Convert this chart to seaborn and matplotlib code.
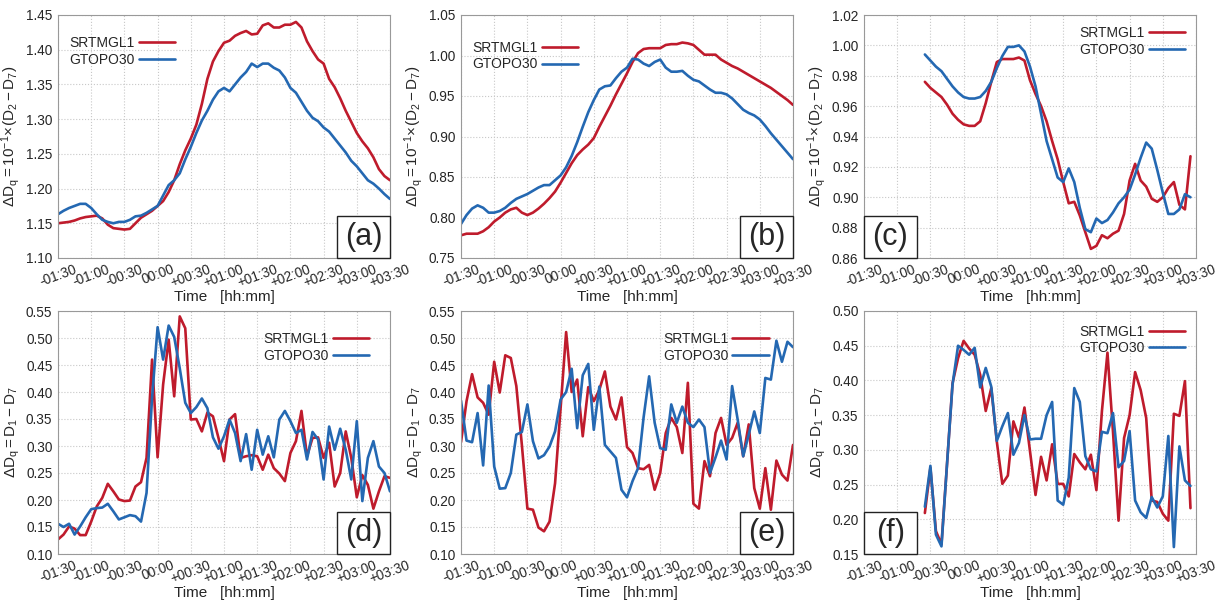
import numpy as np
import pandas as pd
import seaborn as sns
import matplotlib
matplotlib.use("Agg")
import matplotlib.pyplot as plt
from matplotlib.patches import Rectangle

# Tempo em minutos relativo ao evento (passo de 5 min)
t_full = list(range(-90, 215, 5))
t_short = list(range(-35, 210, 5))

x_ticks = [-90, -60, -30, 0, 30, 60, 90, 120, 150, 180, 210]
x_ticklabels = ['-01:30', '-01:00', '-00:30', '00:00', '+00:30', '+01:00',
                '+01:30', '+02:00', '+02:30', '+03:00', '+03:30']

# (a) 10^-1 x (D2 - D7)
a_srtm = [1.150, 1.151, 1.152, 1.154, 1.157, 1.159, 1.160, 1.161, 1.157, 1.148,
          1.143, 1.142, 1.141, 1.142, 1.150, 1.158, 1.163, 1.168, 1.175, 1.182,
          1.195, 1.212, 1.235, 1.255, 1.272, 1.292, 1.322, 1.358, 1.383, 1.398,
          1.410, 1.413, 1.420, 1.424, 1.427, 1.422, 1.423, 1.435, 1.438, 1.432,
          1.432, 1.436, 1.436, 1.440, 1.432, 1.412, 1.398, 1.386, 1.380, 1.358,
          1.346, 1.330, 1.312, 1.296, 1.280, 1.268, 1.258, 1.245, 1.228, 1.218,
          1.212]
a_gtopo = [1.163, 1.168, 1.172, 1.175, 1.178, 1.178, 1.172, 1.163, 1.155, 1.152,
           1.150, 1.152, 1.152, 1.155, 1.160, 1.161, 1.165, 1.170, 1.175, 1.190,
           1.205, 1.212, 1.222, 1.242, 1.260, 1.280, 1.298, 1.312, 1.328, 1.340,
           1.345, 1.340, 1.350, 1.360, 1.368, 1.380, 1.375, 1.380, 1.380, 1.374,
           1.370, 1.360, 1.345, 1.338, 1.325, 1.312, 1.302, 1.297, 1.288, 1.282,
           1.272, 1.262, 1.252, 1.240, 1.232, 1.222, 1.212, 1.207, 1.200, 1.192,
           1.185]

# (b)
b_srtm = [0.778, 0.780, 0.780, 0.780, 0.783, 0.788, 0.795, 0.800, 0.806, 0.810,
          0.812, 0.806, 0.803, 0.806, 0.811, 0.817, 0.824, 0.832, 0.843, 0.855,
          0.867, 0.877, 0.884, 0.890, 0.898, 0.912, 0.925, 0.938, 0.952, 0.965,
          0.978, 0.992, 1.003, 1.008, 1.009, 1.009, 1.009, 1.013, 1.014, 1.014,
          1.016, 1.015, 1.013, 1.007, 1.001, 1.001, 1.001, 0.995, 0.991, 0.987,
          0.984, 0.980, 0.976, 0.972, 0.968, 0.964, 0.960, 0.955, 0.950, 0.945,
          0.939]
b_gtopo = [0.792, 0.803, 0.811, 0.815, 0.812, 0.806, 0.806, 0.808, 0.812, 0.818,
           0.823, 0.826, 0.829, 0.833, 0.837, 0.840, 0.840, 0.846, 0.852, 0.862,
           0.876, 0.893, 0.912, 0.930, 0.945, 0.958, 0.962, 0.963, 0.972, 0.980,
           0.985, 0.996, 0.995, 0.990, 0.987, 0.992, 0.995, 0.985, 0.980, 0.980,
           0.981, 0.975, 0.970, 0.968, 0.963, 0.958, 0.954, 0.954, 0.952, 0.947,
           0.940, 0.933, 0.929, 0.926, 0.921, 0.913, 0.904, 0.896, 0.888, 0.880,
           0.872]

# (c)
c_srtm = [0.976, 0.972, 0.969, 0.966, 0.961, 0.955, 0.951, 0.948, 0.947, 0.947,
          0.950, 0.962, 0.976, 0.989, 0.991, 0.991, 0.991, 0.992, 0.990, 0.977,
          0.968, 0.960, 0.950, 0.937, 0.925, 0.910, 0.896, 0.897, 0.888, 0.877,
          0.866, 0.868, 0.875, 0.873, 0.876, 0.878, 0.889, 0.911, 0.922, 0.911,
          0.907, 0.899, 0.897, 0.900, 0.906, 0.910, 0.895, 0.892, 0.927]
c_gtopo = [0.994, 0.990, 0.986, 0.983, 0.978, 0.973, 0.969, 0.966, 0.965, 0.965,
           0.966, 0.970, 0.976, 0.985, 0.993, 0.999, 0.999, 1.000, 0.996, 0.986,
           0.973, 0.955, 0.937, 0.925, 0.913, 0.910, 0.919, 0.910, 0.893, 0.879,
           0.877, 0.886, 0.883, 0.885, 0.890, 0.896, 0.900, 0.905, 0.915, 0.926,
           0.936, 0.932, 0.918, 0.903, 0.889, 0.889, 0.892, 0.902, 0.900]

# (d) D1 - D7
d_srtm = [0.127, 0.136, 0.151, 0.147, 0.135, 0.135, 0.160, 0.188, 0.204, 0.230,
          0.216, 0.201, 0.198, 0.199, 0.225, 0.233, 0.278, 0.460, 0.279, 0.414,
          0.497, 0.392, 0.540, 0.518, 0.349, 0.350, 0.327, 0.362, 0.355, 0.315,
          0.272, 0.349, 0.359, 0.278, 0.281, 0.283, 0.281, 0.256, 0.284, 0.259,
          0.249, 0.235, 0.287, 0.309, 0.365, 0.281, 0.315, 0.316, 0.278, 0.306,
          0.225, 0.250, 0.327, 0.278, 0.205, 0.246, 0.228, 0.184, 0.216, 0.244,
          0.241]
d_gtopo = [0.156, 0.150, 0.156, 0.136, 0.151, 0.168, 0.183, 0.185, 0.186, 0.193,
           0.179, 0.164, 0.168, 0.172, 0.170, 0.160, 0.213, 0.389, 0.520, 0.460,
           0.523, 0.502, 0.444, 0.380, 0.361, 0.372, 0.388, 0.370, 0.316, 0.295,
           0.318, 0.349, 0.324, 0.272, 0.322, 0.256, 0.330, 0.284, 0.318, 0.279,
           0.349, 0.365, 0.346, 0.324, 0.330, 0.275, 0.326, 0.312, 0.238, 0.336,
           0.293, 0.332, 0.293, 0.238, 0.346, 0.198, 0.278, 0.309, 0.262, 0.250,
           0.216]

# (e)
e_srtm = [0.307, 0.383, 0.433, 0.390, 0.380, 0.358, 0.456, 0.399, 0.468, 0.463,
          0.411, 0.302, 0.184, 0.182, 0.149, 0.142, 0.160, 0.231, 0.370, 0.511,
          0.400, 0.423, 0.318, 0.409, 0.383, 0.404, 0.438, 0.373, 0.349, 0.390,
          0.298, 0.287, 0.259, 0.257, 0.265, 0.219, 0.250, 0.324, 0.352, 0.335,
          0.287, 0.417, 0.193, 0.184, 0.272, 0.244, 0.324, 0.352, 0.302, 0.315,
          0.343, 0.281, 0.340, 0.222, 0.184, 0.259, 0.182, 0.273, 0.247, 0.236,
          0.302]
e_gtopo = [0.384, 0.310, 0.307, 0.361, 0.264, 0.412, 0.262, 0.221, 0.222, 0.250,
           0.321, 0.326, 0.377, 0.309, 0.277, 0.283, 0.299, 0.327, 0.386, 0.400,
           0.443, 0.333, 0.431, 0.452, 0.330, 0.410, 0.302, 0.290, 0.278, 0.219,
           0.205, 0.235, 0.259, 0.353, 0.429, 0.343, 0.296, 0.293, 0.377, 0.343,
           0.373, 0.343, 0.335, 0.349, 0.335, 0.250, 0.279, 0.310, 0.275, 0.411,
           0.349, 0.281, 0.321, 0.364, 0.324, 0.426, 0.423, 0.495, 0.456, 0.493,
           0.483]

# (f)
f_srtm = [0.209, 0.274, 0.183, 0.164, 0.279, 0.396, 0.432, 0.457, 0.446, 0.437,
          0.408, 0.356, 0.389, 0.312, 0.251, 0.263, 0.341, 0.318, 0.361, 0.298,
          0.235, 0.290, 0.256, 0.308, 0.251, 0.251, 0.233, 0.294, 0.282, 0.272,
          0.293, 0.242, 0.356, 0.440, 0.326, 0.198, 0.317, 0.350, 0.412, 0.386,
          0.346, 0.227, 0.225, 0.208, 0.198, 0.352, 0.349, 0.399, 0.216]
f_gtopo = [0.218, 0.277, 0.178, 0.161, 0.279, 0.394, 0.450, 0.444, 0.437, 0.447,
           0.390, 0.418, 0.391, 0.313, 0.334, 0.353, 0.293, 0.310, 0.350, 0.315,
           0.316, 0.316, 0.350, 0.369, 0.227, 0.221, 0.260, 0.389, 0.369, 0.291,
           0.272, 0.269, 0.326, 0.324, 0.353, 0.275, 0.284, 0.327, 0.227, 0.210,
           0.202, 0.232, 0.217, 0.233, 0.320, 0.160, 0.305, 0.256, 0.248]

ylabel_top = r'$\mathrm{\Delta D_q = 10^{-1}\!\times\!(D_2 - D_7)}$'
ylabel_bot = r'$\mathrm{\Delta D_q = D_1 - D_7}$'

RED = '#bf1b2c'
BLUE = '#2468b2'

sns.set_theme(style='whitegrid')
plt.rcParams['font.family'] = ['Liberation Sans', 'DejaVu Sans']
plt.rcParams['mathtext.fontset'] = 'custom'
plt.rcParams['mathtext.rm'] = 'Liberation Sans'
plt.rcParams['mathtext.it'] = 'Liberation Sans:italic'

fig = plt.figure(figsize=(12.27, 6.0), dpi=100)

W, H = 1227.0, 600.0
lefts = [58, 461, 864]
tops = [15, 311]
pw, ph = 332, 243

panels = [
    ('a', t_full, a_srtm, a_gtopo, (1.10, 1.45), 0.05, ylabel_top, 'upper left', 'right'),
    ('b', t_full, b_srtm, b_gtopo, (0.75, 1.05), 0.05, ylabel_top, 'upper left', 'right'),
    ('c', t_short, c_srtm, c_gtopo, (0.86, 1.02), 0.02, ylabel_top, 'upper right', 'left'),
    ('d', t_full, d_srtm, d_gtopo, (0.10, 0.55), 0.05, ylabel_bot, 'upper right', 'right'),
    ('e', t_full, e_srtm, e_gtopo, (0.10, 0.55), 0.05, ylabel_bot, 'upper right', 'right'),
    ('f', t_short, f_srtm, f_gtopo, (0.15, 0.50), 0.05, ylabel_bot, 'upper right', 'left'),
]

legend_anchor = {
    'a': (0.0, 0.96), 'b': (0.0, 0.94),
    'c': (1.0, 1.0), 'd': (0.97, 0.96), 'e': (0.96, 0.96), 'f': (1.0, 0.99),
}

for i, (tag, tt, srtm, gtopo, ylim, ystep, ylab, leg_loc, box_side) in enumerate(panels):
    row, col = divmod(i, 3)
    ax = fig.add_axes([lefts[col] / W, 1 - (tops[row] + ph) / H, pw / W, ph / H])

    df = pd.DataFrame({
        'time': list(tt) * 2,
        'value': list(srtm) + list(gtopo),
        'dem': ['SRTMGL1'] * len(srtm) + ['GTOPO30'] * len(gtopo),
    })
    sns.lineplot(data=df, x='time', y='value', hue='dem',
                 palette={'SRTMGL1': RED, 'GTOPO30': BLUE},
                 linewidth=1.9, ax=ax, legend=False)

    ax.set_xlim(-90, 210)
    ax.set_ylim(*ylim)
    ax.set_xticks(x_ticks)
    ax.set_xticklabels(x_ticklabels, rotation=20, ha='center',
                       rotation_mode='default', fontsize=9.8)
    ax.set_yticks(np.arange(ylim[0], ylim[1] + ystep / 2, ystep))
    ax.yaxis.set_major_formatter(matplotlib.ticker.FormatStrFormatter('%.2f'))
    ax.tick_params(axis='y', labelsize=9.8, pad=4, length=0)
    ax.tick_params(axis='x', pad=3, length=0)
    ax.set_xlabel('Time   [hh:mm]', fontsize=11, labelpad=0)
    ax.set_ylabel(ylab, fontsize=11)
    ax.yaxis.set_label_coords(-0.108, 0.5)

    ax.grid(True, color='#c8c8c8', linestyle=':', linewidth=0.8)
    for s in ax.spines.values():
        s.set_color('#999999')
        s.set_linewidth(0.8)

    handles = ax.get_lines()[:2]
    leg = ax.legend(handles, ['SRTMGL1', 'GTOPO30'], loc=leg_loc,
                    bbox_to_anchor=legend_anchor[tag], markerfirst=False,
                    frameon=False, fontsize=10, handlelength=2.6,
                    handletextpad=0.3, labelspacing=0.2, borderpad=0.3)

    bw, bh = 53 / pw, 42 / ph
    bx = 1 - bw if box_side == 'right' else 0
    ax.add_patch(Rectangle((bx, 0), bw, bh, transform=ax.transAxes,
                           facecolor='white', edgecolor='#222222',
                           linewidth=1.0, zorder=5, clip_on=False))
    ax.text(bx + bw / 2, bh / 2, '(' + tag + ')', transform=ax.transAxes,
            ha='center', va='center', fontsize=22, zorder=6)

fig.savefig('out.png', dpi=100)
